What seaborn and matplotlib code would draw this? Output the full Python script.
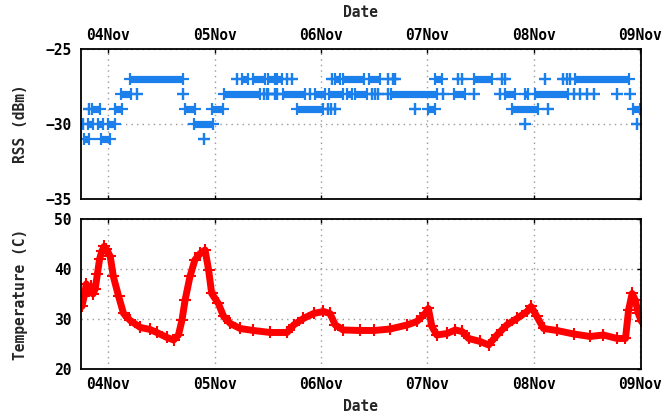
import pandas as pd
import numpy as np
import seaborn as sns
import matplotlib.pyplot as plt

# start of the time axis, all times below are hours after this
base = pd.Timestamp("2012-11-04 00:00")

# RSS runs: first sample hour, last sample hour, level (dBm)
rss_start = [4.9, 29.0, 30.1, 32.6, 36.1, 38.0, 40.3, 41.4, 50.4, 51.2, 53.0, 58.7, 63.2, 64.3, 64.7,
             73.7, 79.0, 79.8, 82.4, 88.8, 89.5, 98.6, 102.7, 103.5, 104.2, 105.3,
             2.9, 6.5, 16.9, 26.0, 35.0, 35.8, 36.1, 37.6, 38.0, 39.5, 45.5, 46.7, 49.7, 53.8, 55.7,
             59.5, 60.2, 60.9, 63.2, 63.8, 75.4, 77.9, 82.4, 88.4, 89.5, 94.1, 96.2, 105.0, 106.5,
             108.0, 109.5, 114.8, 117.8,
             -4.3, -3.7, 1.4, 17.3, 23.3, 42.5, 49.5, 50.3, 51.2, 69.2, 72.2, 91.0, 99.3, 118.4,
             -5.8, -4.6, -2.3, -0.1, 19.4, 94.1, 119.3,
             -5.5, -1.6, 21.6]
rss_end = [16.9, 29.0, 31.6, 35.4, 37.6, 39.1, 40.3, 41.4, 50.4, 52.3, 57.6, 61.3, 63.2, 64.3, 64.7,
           75.2, 79.0, 79.8, 86.5, 88.8, 89.5, 98.6, 102.7, 103.5, 104.2, 117.4,
           5.1, 6.5, 16.9, 34.2, 35.0, 35.8, 36.1, 37.6, 38.0, 44.4, 45.5, 48.9, 53.0, 54.9, 58.3,
           59.5, 60.2, 60.9, 63.2, 74.1, 75.4, 80.5, 82.4, 88.4, 91.8, 94.8, 103.8, 105.0, 106.5,
           108.0, 109.5, 114.8, 117.8,
           -4.3, -1.9, 3.0, 19.6, 25.9, 48.5, 49.5, 50.3, 51.2, 69.2, 73.7, 97.0, 99.3, 120.0,
           -5.8, -3.6, -1.2, 1.5, 23.7, 94.1, 119.3,
           -4.3, 0.3, 21.6]
rss_dbm = [-27] * 26 + [-28] * 33 + [-29] * 14 + [-30] * 7 + [-31] * 3

# temperature samples
temp_hours = [-6.0, -5.5, -5.0, -4.5, -4.0, -3.5, -3.0, -2.5, -2.0, -1.5, -1.0, -0.5, 0.4, 1.1, 2.3,
              3.4, 4.9, 7.2, 9.4, 10.9, 13.2, 14.7, 15.8, 16.6, 17.3, 18.4, 19.5, 20.7, 21.8, 22.6,
              23.3, 24.8, 26.0, 27.5, 29.7, 32.7, 36.5, 40.3, 41.8, 44.0, 46.3, 48.5, 50.0, 51.2,
              53.0, 56.8, 60.0, 63.6, 67.4, 69.6, 71.5, 72.2, 73.0, 74.1, 76.4, 78.3, 79.8, 81.3,
              83.9, 85.8, 87.7, 89.9, 92.2, 94.5, 95.4, 96.7, 98.2, 101.2, 105.0, 108.7, 111.7,
              114.8, 116.7, 117.4, 118.2, 118.9, 119.6, 120.3]
temp_c = [32.5, 34.5, 37.0, 35.5, 36.5, 35.0, 36.0, 39.0, 42.0, 43.5, 44.5, 44.0, 42.5, 38.5, 34.5,
          31.1, 29.7, 28.3, 27.9, 27.3, 26.3, 25.8, 26.8, 29.8, 33.8, 38.5, 41.8, 43.1, 43.8, 39.8,
          35.1, 33.1, 30.5, 29.1, 28.1, 27.7, 27.3, 27.3, 28.8, 30.1, 31.1, 31.5, 31.1, 28.8,
          27.8, 27.7, 27.7, 28.0, 28.8, 29.5, 31.1, 32.1, 28.5, 26.8, 27.1, 27.8, 27.5, 26.1,
          25.5, 24.8, 26.8, 28.8, 30.1, 31.5, 32.5, 30.5, 28.1, 27.7, 27.0, 26.5, 26.8,
          26.1, 26.1, 31.8, 35.1, 33.8, 31.1, 29.5]

day_labels = ["04Nov", "05Nov", "06Nov", "07Nov", "08Nov", "09Nov"]


def to_time(hours):
    return base + pd.to_timedelta(np.array(hours), unit="h")


rss = pd.DataFrame({"start": to_time(rss_start), "end": to_time(rss_end), "rss": rss_dbm})
temp = pd.DataFrame({"time": to_time(temp_hours), "temp": temp_c})
ends = pd.concat([rss[["start", "rss"]].rename(columns={"start": "time"}),
                  rss[["end", "rss"]].rename(columns={"end": "time"})])

sns.set_style("white")
plt.rcParams["font.family"] = ["DejaVu Sans Mono"]
plt.rcParams["font.weight"] = "bold"

blue = "#1c80ec"
red = "#ff0000"
fs = 10.5

fig = plt.figure(figsize=(6.65, 4.16), dpi=100)
ax1 = fig.add_axes([0.1218, 0.5216, 0.8421, 0.3606])
ax2 = fig.add_axes([0.1218, 0.1130, 0.8421, 0.3606])

# RSS: dense runs drawn as thick bars with + at the ends
ax1.hlines(rss["rss"], rss["start"], rss["end"], color=blue, linewidth=5.2)
sns.scatterplot(data=ends, x="time", y="rss", marker="+", s=64, color=blue,
                linewidth=1.6, ax=ax1, legend=False)

# temperature
sns.lineplot(data=temp, x="time", y="temp", color=red, linewidth=5, marker="+",
             markersize=8, markeredgewidth=1.5, markeredgecolor=red, ax=ax2)

xmin = base - pd.Timedelta(hours=6.2)
xmax = base + pd.Timedelta(hours=120.2)
day_ticks = [base + pd.Timedelta(days=i) for i in range(len(day_labels))]

for ax in (ax1, ax2):
    ax.set_xlim(xmin, xmax)
    ax.set_xticks(day_ticks)
    ax.set_xticklabels(day_labels)
    ax.grid(True, linestyle=(0, (1, 3)), color="#999999", linewidth=1)
    ax.tick_params(direction="in", length=3, width=1, labelsize=fs,
                   top=True, right=True, colors="black")
    ax.tick_params(axis="y", pad=7)
    for s in ax.spines.values():
        s.set_color("black")
        s.set_linewidth(1.3)

ax1.set_ylim(-35, -25)
ax1.set_yticks([-35, -30, -25])
ax1.xaxis.tick_top()
ax1.tick_params(axis="x", bottom=True, top=True, labelbottom=False, labeltop=True, pad=4.5)
ax1.xaxis.set_label_position("top")
ax1.set_xlabel("Date", fontsize=fs, fontweight="bold", labelpad=8)
ax1.set_ylabel("RSS (dBm)", fontsize=fs, fontweight="bold")
ax1.yaxis.set_label_coords(-0.095, 0.5)

ax2.set_ylim(20, 50)
ax2.set_yticks([20, 30, 40, 50])
ax2.tick_params(axis="x", pad=5.5)
ax2.set_xlabel("Date", fontsize=fs, fontweight="bold", labelpad=5)
ax2.set_ylabel("Temperature (C)", fontsize=fs, fontweight="bold")
ax2.yaxis.set_label_coords(-0.095, 0.5)

fig.savefig("out.png", dpi=100)
